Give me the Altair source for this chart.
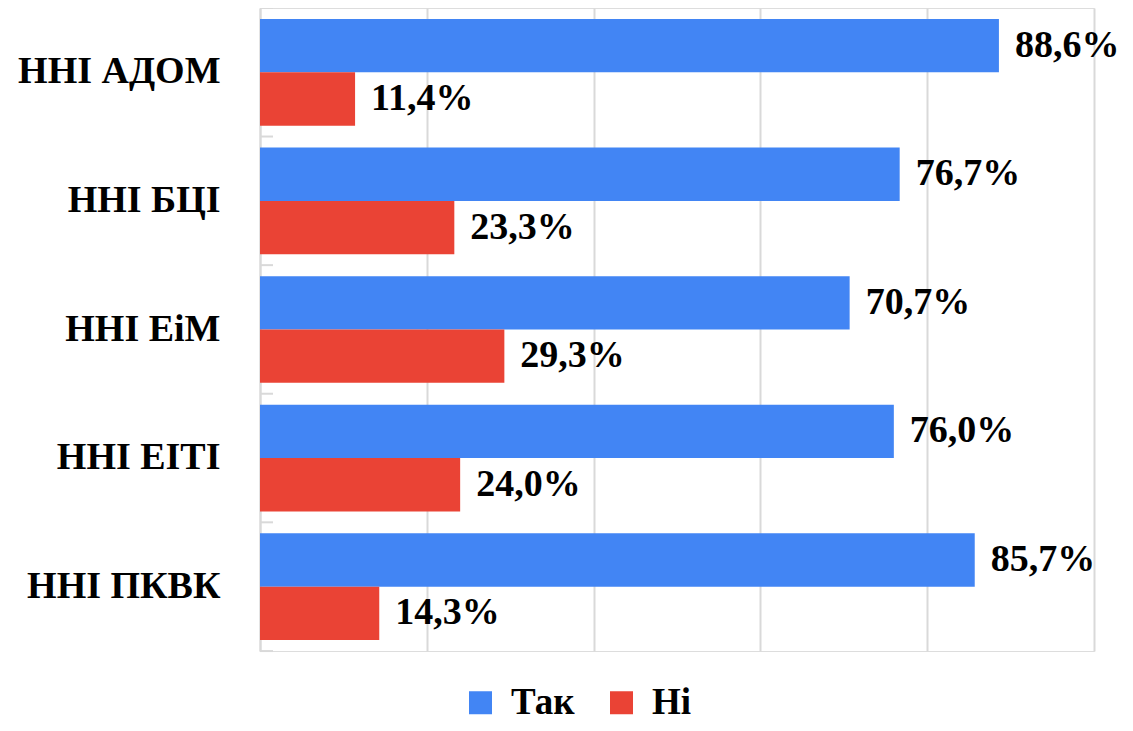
import altair as alt
import pandas as pd

categories = ["ННІ АДОМ", "ННІ БЦІ", "ННІ ЕіМ", "ННІ ЕІТІ", "ННІ ПКВК"]
series = ["Так", "Ні"]
tak_values = [88.6, 76.7, 70.7, 76.0, 85.7]
ni_values = [11.4, 23.3, 29.3, 24.0, 14.3]
colors = ["#4285F4", "#EA4335"]

rows = []
for c, t, n in zip(categories, tak_values, ni_values):
    rows.append({"cat": c, "series": "Так", "value": t})
    rows.append({"cat": c, "series": "Ні", "value": n})
df = pd.DataFrame(rows)
df["label"] = df["value"].map(lambda v: f"{v:.1f}%".replace(".", ","))

ticks_df = pd.DataFrame({"cat": categories})
bottom_df = pd.DataFrame({"cat": [categories[-1]]})

FONT = "Liberation Serif"
GRID = "#d9d9d9"

y_scale = alt.Scale(domain=categories, paddingInner=0.17, paddingOuter=0.085)
y_enc = alt.Y("cat:N", scale=y_scale, sort=categories,
              axis=alt.Axis(title=None, labelFont=FONT, labelFontSize=38,
                            labelFontWeight="bold", labelColor="#000000",
                            labelPadding=40, ticks=False, domain=True,
                            domainColor=GRID, domainWidth=2, grid=False,
                            labelLimit=400))
x_enc = alt.X("value:Q", scale=alt.Scale(domain=[0, 100], nice=False),
              axis=alt.Axis(title=None, labels=False, ticks=False, domain=False,
                            grid=True, gridColor=GRID, gridWidth=2,
                            values=[0, 20, 40, 60, 80, 100]))

bars = alt.Chart(df).mark_bar().encode(
    x=x_enc,
    y=y_enc,
    yOffset=alt.YOffset("series:N", sort=series, scale=alt.Scale(domain=series, paddingInner=0, paddingOuter=0)),
    color=alt.Color("series:N", sort=series,
                    scale=alt.Scale(domain=series, range=colors),
                    legend=alt.Legend(title=None, orient="none", legendX=202, legendY=676,
                                      direction="horizontal", symbolType="square",
                                      symbolSize=529, symbolStrokeWidth=0,
                                      labelFont=FONT, labelFontSize=37,
                                      labelFontWeight="bold", labelColor="#000000",
                                      columnPadding=28, labelOffset=12)),
)

labels = alt.Chart(df).mark_text(align="left", baseline="middle", dx=16,
                                 font=FONT, fontSize=38, fontWeight="bold",
                                 color="#000000").encode(
    x=alt.X("value:Q"),
    y=alt.Y("cat:N", sort=categories),
    yOffset=alt.YOffset("series:N", sort=series),
    text="label:N",
)

tick_rules = alt.Chart(ticks_df).mark_rule(color=GRID, strokeWidth=2, yOffset=-11).encode(
    y=alt.Y("cat:N", sort=categories, bandPosition=0),
    x=alt.value(0),
    x2=alt.value(13),
)
bottom_rule = alt.Chart(bottom_df).mark_rule(color=GRID, strokeWidth=2, yOffset=11).encode(
    y=alt.Y("cat:N", sort=categories, bandPosition=1),
    x=alt.value(0),
    x2=alt.value(13),
)

chart = alt.layer(bars, labels, tick_rules, bottom_rule).properties(
    width=834, height=643,
    autosize=alt.AutoSizeParams(type="none"),
    padding={"left": 252, "top": 0, "right": 30, "bottom": 72},
).configure_view(stroke=None).configure(background="#ffffff")

chart.save("out.html", embed_options={"renderer": "svg", "actions": False})
